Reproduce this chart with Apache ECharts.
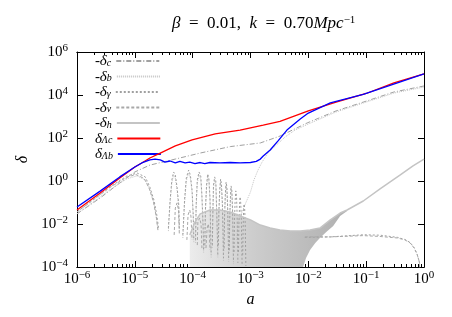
<!DOCTYPE html>
<html><head><meta charset="utf-8">
<script src="https://cdn.jsdelivr.net/npm/echarts@6/dist/echarts.min.js"></script>
<style>html,body{margin:0;padding:0;background:#fff}#c{width:452px;height:317px}</style>
</head><body><div id="c"></div>
<script>
// All curve values are stored as [log10(a), log10(delta)]
const xTickExps = [-6, -5, -4, -3, -2, -1, 0];
const yTickExps = [-4, -2, 0, 2, 4, 6];
const seriesNames = ['-δc', '-δb', '-δγ', '-δν', '-δh', 'δΛc', 'δΛb'];

const deltaLc = [[-6.00,-1.35],[-5.60,-0.56],[-5.26,0.14],[-5.00,0.65],[-4.88,0.84],[-4.74,1.07],[-4.56,1.30],[-4.30,1.63],[-4.01,1.91],[-3.61,2.19],[-3.18,2.37],[-2.78,2.60],[-2.49,2.77],[-2.00,3.26],[-1.52,3.67],[-1.00,4.07],[-0.52,4.56],[0.00,4.98]];

const deltaLb = [[-6.00,-1.21],[-5.60,-0.47],[-5.26,0.19],[-5.00,0.65],[-4.88,0.84],[-4.74,0.98],[-4.65,1.02],[-4.56,0.98],[-4.48,0.88],[-4.39,0.93],[-4.30,0.84],[-4.22,0.91],[-4.13,0.84],[-4.05,0.88],[-3.96,0.81],[-3.87,0.86],[-3.79,0.81],[-3.70,0.86],[-3.53,0.84],[-3.35,0.86],[-3.18,0.84],[-3.00,0.86],[-2.90,0.91],[-2.83,1.02],[-2.78,1.16],[-2.66,1.44],[-2.52,1.88],[-2.37,2.37],[-2.14,2.88],[-2.00,3.16],[-1.62,3.63],[-1.05,4.03],[-0.46,4.56],[0.00,4.98]];

const deltaC = [[-6.00,-1.53],[-5.60,-0.79],[-5.26,-0.09],[-5.00,0.42],[-4.74,0.74],[-4.30,1.02],[-3.87,1.30],[-3.35,1.60],[-2.83,1.77],[-2.49,2.09],[-2.02,2.70],[-1.52,3.26],[-1.05,3.67],[-0.52,4.14],[0.00,4.42]];

const deltaB = [
 [-6.00,-1.53],[-5.43,-0.40],[-5.14,0.10],[-4.96,0.24],[-4.82,0.05],[-4.74,-0.42],[-4.67,-1.02],[-4.625,-1.75],[-4.60,-2.3], null,
 [-4.42,-2.33],[-4.39,-1.02],[-4.36,-0.09],[-4.33,0.28],[-4.30,0.14],[-4.27,-0.42],[-4.24,-1.26],[-4.23,-2.33], null,
 [-4.17,-2.65],[-4.14,-1.02],[-4.11,0.00],[-4.07,0.37],[-4.04,0.14],[-4.01,-0.56],[-3.99,-1.72],[-3.98,-2.88], null,
 [-3.95,-2.88],[-3.94,-1.26],[-3.92,-0.09],[-3.89,0.28],[-3.86,0.09],[-3.84,-0.79],[-3.82,-2.19],[-3.81,-3.35], null,
 [-3.79,-3.12],[-3.78,-1.49],[-3.76,-0.33],[-3.74,0.19],[-3.72,0.00],[-3.70,-0.93],[-3.69,-2.42],[-3.68,-3.58], null,
 [-3.66,-3.12],[-3.65,-1.49],[-3.64,-0.33],[-3.62,0.05],[-3.60,-0.14],[-3.59,-1.02],[-3.575,-2.42],[-3.565,-3.58], null,
 [-3.555,-3.12],[-3.547,-1.58],[-3.533,-0.56],[-3.517,-0.05],[-3.502,-0.28],[-3.486,-1.16],[-3.474,-2.65],[-3.467,-3.72], null,
 [-3.457,-3.26],[-3.448,-1.72],[-3.436,-0.79],[-3.422,-0.19],[-3.408,-0.42],[-3.395,-1.35],[-3.384,-2.79],[-3.377,-3.81], null,
 [-3.367,-3.35],[-3.360,-1.95],[-3.348,-0.93],[-3.336,-0.37],[-3.322,-0.60],[-3.310,-1.49],[-3.301,-2.88],[-3.294,-3.91], null,
 [-3.24,-2.74],[-3.215,-1.91],[-3.145,-1.44],[-3.076,-0.98],[-3.00,-0.51],[-2.94,0.05],[-2.87,0.51],[-2.80,0.88],[-2.70,1.30],[-2.57,1.63],[-2.40,2.05],[-2.23,2.37],[-2.00,2.65],[-1.52,3.21],[-1.00,3.67],[-0.52,4.09],[0.00,4.37]
];

const deltaGamma = [
 [-6.00,-1.44],[-5.43,-0.28],[-5.14,0.23],[-4.96,0.37],[-4.82,0.19],[-4.74,-0.28],[-4.67,-0.88],[-4.62,-1.58],[-4.59,-2.19], null,
 [-4.42,-2.19],[-4.39,-0.88],[-4.36,0.05],[-4.33,0.42],[-4.30,0.28],[-4.27,-0.28],[-4.24,-1.12],[-4.23,-2.19], null,
 [-4.17,-2.51],[-4.14,-0.88],[-4.11,0.14],[-4.07,0.51],[-4.04,0.28],[-4.01,-0.42],[-3.99,-1.58],[-3.98,-2.74], null,
 [-3.95,-2.74],[-3.94,-1.12],[-3.92,0.05],[-3.89,0.42],[-3.86,0.23],[-3.84,-0.65],[-3.82,-2.05],[-3.81,-3.21], null,
 [-3.79,-2.98],[-3.78,-1.35],[-3.76,-0.19],[-3.74,0.33],[-3.72,0.14],[-3.70,-0.79],[-3.69,-2.28],[-3.68,-3.44], null,
 [-3.66,-2.98],[-3.65,-1.35],[-3.64,-0.19],[-3.62,0.19],[-3.60,0.00],[-3.59,-0.88],[-3.575,-2.28],[-3.565,-3.44], null,
 [-3.555,-2.98],[-3.547,-1.44],[-3.533,-0.42],[-3.517,0.09],[-3.502,-0.14],[-3.486,-1.02],[-3.474,-2.51],[-3.467,-3.58], null,
 [-3.457,-3.12],[-3.448,-1.58],[-3.436,-0.65],[-3.422,-0.05],[-3.408,-0.28],[-3.395,-1.21],[-3.384,-2.65],[-3.377,-3.67], null,
 [-3.367,-3.21],[-3.360,-1.81],[-3.348,-0.79],[-3.336,-0.23],[-3.322,-0.46],[-3.310,-1.35],[-3.301,-2.74],[-3.294,-3.77], null,
 [-3.284,-3.30],[-3.277,-1.91],[-3.267,-0.98],[-3.254,-0.46],[-3.242,-0.70],[-3.232,-1.53],[-3.223,-2.88],[-3.218,-3.81], null,
 [-3.208,-3.30],[-3.201,-2.05],[-3.190,-1.16],[-3.180,-0.74],[-3.170,-0.98],[-3.159,-1.72],[-3.151,-2.98],[-3.145,-3.91], null,
 [-3.135,-3.44],[-3.128,-2.28],[-3.120,-1.44],[-3.111,-1.07],[-3.101,-1.30],[-3.092,-1.91],[-3.085,-3.12],[-3.080,-3.95], null,
 [-2.06,-2.62],[-1.62,-2.60],[-1.05,-2.50],[-0.76,-2.52],[-0.46,-2.62],[-0.33,-2.72],[-0.24,-2.86],[-0.17,-3.10],[-0.12,-3.40],[-0.08,-3.77],[-0.07,-4.40]
];

const deltaNu = [
 [-6.00,-1.44],[-5.43,-0.30],[-5.14,0.18],[-4.98,0.30],[-4.84,0.12],[-4.75,-0.35],[-4.68,-0.95],[-4.63,-1.65],[-4.60,-2.30], null,
 [-4.32,-2.51],[-4.30,-1.26],[-4.27,-1.02],[-4.245,-1.35],[-4.23,-2.51], null,
 [-4.10,-2.74],[-4.08,-1.58],[-4.05,-1.35],[-4.03,-1.63],[-4.01,-2.74], null,
 [-3.92,-2.98],[-3.91,-1.91],[-3.88,-1.72],[-3.855,-2.00],[-3.84,-3.12], null,
 [-3.77,-3.12],[-3.75,-2.19],[-3.73,-2.00],[-3.715,-2.28],[-3.70,-3.21], null,
 [-2.06,-2.60],[-1.62,-2.60],[-1.05,-2.54],[-0.76,-2.58],[-0.46,-2.65],[-0.33,-2.74],[-0.24,-2.88],[-0.17,-3.12],[-0.12,-3.40],[-0.08,-3.77],[-0.07,-4.40]
];

// upper edge of the fast-oscillating -delta_h band, then its late growth
const deltaHUpper = [[-4.05,-2.51],[-3.96,-1.91],[-3.87,-1.53],[-3.70,-1.35],[-3.53,-1.35],[-3.35,-1.44],[-3.18,-1.63],[-3.00,-1.81],[-2.83,-2.05],[-2.66,-2.19],[-2.49,-2.28],[-2.31,-2.33],[-2.14,-2.33],[-1.97,-2.28],[-1.80,-2.19],[-1.62,-1.81],[-1.45,-1.49],[-1.33,-1.35],[-1.05,-0.93],[-0.76,-0.37],[-0.41,0.28],[-0.19,0.70],[0.00,1.02]];
// lower edge of the band (values below the axis are off-plot minima)
const deltaHLower = [[-4.05,-5],[-2.14,-5],[-2.09,-4.00],[-2.04,-3.58],[-1.97,-3.21],[-1.88,-2.88],[-1.80,-2.65],[-1.69,-2.37],[-1.57,-2.09],[-1.45,-1.63],[-1.33,-1.40]];

function toData(arr) {
  return arr.map(p => p ? [Math.pow(10, p[0]), Math.pow(10, p[1])] : ['-', '-']);
}
const bandUpperPart = deltaHUpper.filter(p => p[0] <= -1.33);
const bandPoly = bandUpperPart.concat(deltaHLower.slice().reverse());

const SERIF = '"Liberation Serif", "DejaVu Serif", serif';
const xMajor = xTickExps.map(e => Math.pow(10, e));
const yMajor = yTickExps.map(e => Math.pow(10, e));
const xMinor = [];
xTickExps.slice(0, -1).forEach(e => { for (let m = 2; m <= 9; m++) xMinor.push(m * Math.pow(10, e)); });

function expLabel(v) {
  const e = Math.round(Math.log10(v));
  return '{b|10}{e|' + (e < 0 ? '\u2212' + (-e) : e) + '}';
}
const labelRich = {
  b: { fontFamily: SERIF, fontSize: 15, lineHeight: 15, verticalAlign: 'bottom', color: '#000' },
  e: { fontFamily: SERIF, fontSize: 11, lineHeight: 11, padding: [0, 0, 6, 0], verticalAlign: 'bottom', color: '#000' }
};

function xAx(pos, ticks, len, labels) {
  return {
    type: 'log', logBase: 10, min: 1e-6, max: 1, position: pos,
    axisLine: { show: true, onZero: false, lineStyle: { color: '#000', width: 1 } },
    axisTick: { show: true, inside: true, length: len, customValues: ticks, lineStyle: { color: '#000', width: 1 } },
    axisLabel: labels ? { show: true, customValues: xMajor, formatter: expLabel, margin: 5, rich: labelRich } : { show: false },
    splitLine: { show: false }, minorTick: { show: false },
    name: labels ? 'a' : '', nameLocation: 'middle', nameGap: 23,
    nameTextStyle: { fontFamily: SERIF, fontStyle: 'italic', fontSize: 16, color: '#000' }
  };
}
function yAx(pos, labels) {
  return {
    type: 'log', logBase: 10, min: 1e-4, max: 1e6, position: pos,
    axisLine: { show: true, onZero: false, lineStyle: { color: '#000', width: 1 } },
    axisTick: { show: true, inside: true, length: 6, customValues: yMajor, lineStyle: { color: '#000', width: 1 } },
    axisLabel: labels ? { show: true, customValues: yMajor, formatter: expLabel, margin: 9, rich: labelRich } : { show: false },
    splitLine: { show: false }, minorTick: { show: false },
    name: labels ? 'δ' : '', nameLocation: 'middle', nameGap: 32, nameRotate: 90,
    nameTextStyle: { fontFamily: SERIF, fontStyle: 'italic', fontSize: 16, color: '#000' }
  };
}

function lineSeries(name, data, color, width, type, z) {
  return {
    name, type: 'line', data: toData(data), symbol: 'none', showSymbol: false, clip: true,
    connectNulls: false, z: z || 2, animation: false,
    itemStyle: { color }, lineStyle: { color, width, type }
  };
}

// legend text pieces: main part and subscript
const legendParts = { '-δc': ['-δ', 'c'], '-δb': ['-δ', 'b'], '-δγ': ['-δ', 'γ'], '-δν': ['-δ', 'ν'], '-δh': ['-δ', 'h'], 'δΛc': ['δ', 'Λc'], 'δΛb': ['δ', 'Λb'] };
// measure the legend texts so they can be right-aligned before their line samples
const mctx = document.createElement('canvas').getContext('2d');
function textW(t, size) { mctx.font = 'italic ' + size + 'px "Liberation Serif"'; return mctx.measureText(t).width; }
const legendW = {};
seriesNames.forEach(n => { legendW[n] = textW(legendParts[n][0], 15) + textW(legendParts[n][1], 10); });
const legendMaxW = Math.max.apply(null, seriesNames.map(n => legendW[n]));
function legendFor(n, i) {
  const rich = {
    p: { width: Math.max(0.1, legendMaxW - legendW[n]), fontSize: 14, lineHeight: 14 },
    d: { fontFamily: SERIF, fontStyle: 'italic', fontSize: 15, lineHeight: 14, verticalAlign: 'top', color: '#000' },
    s: { fontFamily: SERIF, fontStyle: 'italic', fontSize: 10, lineHeight: 10, padding: [4, 0, 0, 0], verticalAlign: 'bottom', color: '#000' }
  };
  return {
    orient: 'vertical', left: 109 - legendMaxW, top: 54 + i * 15.5, align: 'right', padding: 0,
    itemWidth: 43, itemHeight: 10, itemGap: 0,
    itemStyle: { opacity: 0 },
    data: [n],
    formatter: nm => '{p| }{d|' + legendParts[nm][0] + '}{s|' + legendParts[nm][1] + '}',
    textStyle: { color: '#000', rich }
  };
}

const chart = echarts.init(document.getElementById('c'), null, { renderer: 'canvas' });
chart.setOption({
  animation: false,
  backgroundColor: '#fff',
  title: {
    text: '{i|β}\u2002=\u20020.01,\u2002{i|k}\u2002=\u20020.70{i|Mpc}{e|\u22121}',
    left: 167, top: 10,
    textStyle: {
      fontFamily: SERIF, fontSize: 17, fontWeight: 'normal', color: '#000',
      rich: {
        i: { fontFamily: SERIF, fontStyle: 'italic', fontSize: 17, lineHeight: 16, verticalAlign: 'bottom', color: '#000' },
        e: { fontFamily: SERIF, fontSize: 11, lineHeight: 11, padding: [0, 0, 6, 0], verticalAlign: 'bottom', color: '#000' }
      }
    }
  },
  grid: { left: 77, right: 28, top: 52, bottom: 50, containLabel: false },
  legend: seriesNames.map(legendFor),
  xAxis: [xAx('bottom', xMajor, 6, true), xAx('bottom', xMinor, 3, false), xAx('top', xMajor, 6, false), xAx('top', xMinor, 3, false)],
  yAxis: [yAx('left', true), yAx('right', false)],
  series: [
    {
      name: 'band', type: 'custom', silent: true, clip: true, z: 1,
      data: [[1e-3, 1e-2]],
      renderItem: (params, api) => ({
        type: 'polygon',
        shape: { points: bandPoly.map(p => api.coord([Math.pow(10, p[0]), Math.pow(10, p[1])])) },
        style: { fill: new echarts.graphic.LinearGradient(0, 0, 1, 0, [{ offset: 0, color: '#ececec' }, { offset: 0.4, color: '#cdcdcd' }, { offset: 1, color: '#b0b0b0' }]) }
      })
    },
    lineSeries('-δc', deltaC, '#a0a0a0', 1, [5, 2, 1, 2]),
    lineSeries('-δb', deltaB, '#c4c4c4', 1, [1, 1]),
    lineSeries('-δγ', deltaGamma, '#a0a0a0', 1, [2, 2]),
    lineSeries('-δν', deltaNu, '#a8a8a8', 1, [3, 2]),
    lineSeries('-δh', deltaHUpper, '#c4c4c4', 1.5, 'solid'),
    lineSeries('δΛc', deltaLc, '#ff0000', 1.3, 'solid', 4),
    lineSeries('δΛb', deltaLb, '#0000ff', 1.3, 'solid', 5)
  ]
});
</script>
</body></html>
